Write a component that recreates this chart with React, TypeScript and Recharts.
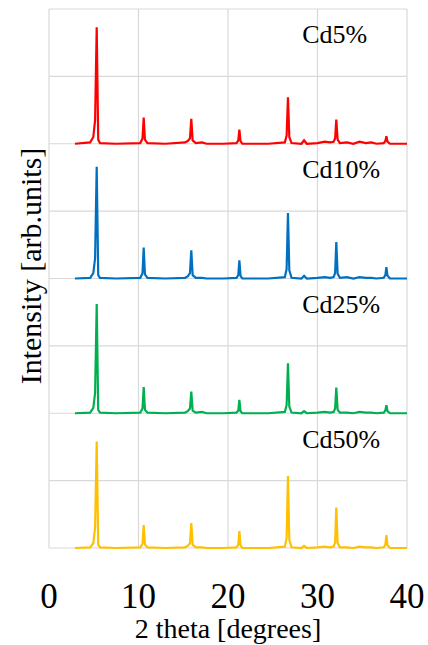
import { LineChart, Line, XAxis, YAxis, CartesianGrid, ReferenceDot } from "recharts";

// 2 theta positions (degrees), shared by every pattern
const twoTheta = [
  2.9, 4.6, 4.95, 5.15, 5.33, 5.5, 5.7, 7.5, 10.2, 10.45, 10.58, 10.72, 11.0, 13.0,
  15.2, 15.5, 15.75, 15.9, 16.05, 16.4, 17.1, 17.6, 19.5, 20.95, 21.15, 21.27, 21.4,
  21.6, 24.5, 26.35, 26.55, 26.7, 26.85, 27.1, 28.2, 28.5, 28.8, 30.0, 30.8, 31.4,
  31.8, 31.97, 32.1, 32.25, 32.5, 33.3, 34.0, 34.7, 35.4, 36.0, 36.6, 37.4, 37.58,
  37.7, 37.82, 38.1, 40.0,
];

// intensities above each pattern's own baseline
const cd5 = [
  0, 0.02, 0.1, 0.35, 1.73, 0.06, 0.01, 0, 0.01, 0.08, 0.39, 0.06, 0.01, 0,
  0.02, 0.04, 0.08, 0.37, 0.05, 0.01, 0.02, 0, 0, 0.01, 0.05, 0.21, 0.04,
  0, 0, 0.02, 0.12, 0.69, 0.1, 0.01, 0, 0.05, 0, 0.01, 0.03, 0.02,
  0.03, 0.08, 0.36, 0.06, 0.01, 0.02, 0, 0.03, 0.01, 0.02, 0, 0.01, 0.04,
  0.11, 0.03, 0, 0,
];
const cd10 = [
  0, 0.01, 0.08, 0.3, 1.66, 0.05, 0.01, 0, 0.01, 0.08, 0.46, 0.06, 0.01, 0,
  0.01, 0.03, 0.08, 0.42, 0.05, 0.01, 0.01, 0, 0, 0.01, 0.05, 0.27, 0.04,
  0, 0, 0.02, 0.14, 0.97, 0.12, 0.01, 0, 0.04, 0, 0.01, 0.02, 0.01,
  0.02, 0.08, 0.54, 0.07, 0.01, 0.02, 0, 0.02, 0.01, 0.01, 0, 0.01, 0.05,
  0.17, 0.04, 0, 0,
];
const cd25 = [
  0, 0.01, 0.08, 0.3, 1.62, 0.05, 0.01, 0, 0.01, 0.07, 0.39, 0.05, 0.01, 0,
  0.01, 0.03, 0.07, 0.32, 0.04, 0.01, 0.02, 0, 0, 0.01, 0.04, 0.2, 0.03,
  0, 0, 0.02, 0.12, 0.74, 0.1, 0.01, 0, 0.03, 0, 0.01, 0.02, 0.01,
  0.02, 0.07, 0.38, 0.05, 0.01, 0.01, 0, 0.02, 0.01, 0.01, 0, 0.01, 0.04,
  0.12, 0.03, 0, 0,
];
const cd50 = [
  0, 0.01, 0.07, 0.3, 1.58, 0.05, 0.01, 0, 0.01, 0.06, 0.34, 0.05, 0.01, 0,
  0.01, 0.03, 0.07, 0.37, 0.05, 0.01, 0.01, 0, 0, 0.01, 0.05, 0.25, 0.04,
  0, 0, 0.02, 0.15, 1.07, 0.12, 0.01, 0, 0.03, 0, 0.01, 0.02, 0.01,
  0.02, 0.08, 0.6, 0.07, 0.01, 0.01, 0, 0.02, 0.01, 0.01, 0, 0.01, 0.05,
  0.19, 0.04, 0, 0,
];

const seriesNames = ["Cd5%", "Cd10%", "Cd25%", "Cd50%"];
const xTicks = [0, 10, 20, 30, 40];
const yTicks = [0, 1, 2, 3, 4, 5, 6, 7, 8];

// vertical offsets used to stack the patterns
const offsets = [6, 4, 2, 0];
const colors = ["#ff0000", "#0070c0", "#00b050", "#ffc000"];

const table = twoTheta.map((x, i) => ({
  x,
  s0: cd5[i] + offsets[0],
  s1: cd10[i] + offsets[1],
  s2: cd25[i] + offsets[2],
  s3: cd50[i] + offsets[3],
}));

const serif = { fontFamily: "Liberation Serif, DejaVu Serif, serif" };

const XTick = (props: any) => (
  <text x={props.x} y={608} textAnchor="middle" fontSize={35} style={serif} fill="#000">
    {props.payload.value}
  </text>
);

const AxisTitles = () => (
  <g>
    <text x={228} y={638} textAnchor="middle" fontSize={28} style={serif} fill="#000">
      2 theta [degrees]
    </text>
    <text
      x={30}
      y={266}
      transform="rotate(-90 30 266)"
      textAnchor="middle"
      dominantBaseline="central"
      fontSize={30}
      style={serif}
      fill="#000"
    >
      Intensity [arb.units]
    </text>
  </g>
);

export default function App() {
  return (
    <div style={{ position: "absolute", left: 0, top: 0, width: 428, height: 645 }}>
      <LineChart
        width={428}
        height={645}
        data={table}
        margin={{ top: 9, right: 21, left: 0, bottom: 0 }}
      >
        <CartesianGrid stroke="#d9d9d9" strokeWidth={1.2} />
        <XAxis
          dataKey="x"
          type="number"
          domain={[0, 40]}
          ticks={xTicks}
          height={97}
          axisLine={false}
          tickLine={false}
          tick={<XTick />}
          label={{ content: () => <AxisTitles /> }}
        />
        <YAxis
          type="number"
          domain={[0, 8]}
          ticks={yTicks}
          width={49}
          axisLine={false}
          tickLine={false}
          tick={() => <g />}
        />
        {seriesNames.map((name, k) => (
          <Line
            key={name}
            dataKey={"s" + k}
            name={name}
            type="linear"
            stroke={colors[k]}
            strokeWidth={2.2}
            dot={false}
            isAnimationActive={false}
          />
        ))}
        {seriesNames.map((name, k) => (
          <ReferenceDot
            key={"lbl" + name}
            x={28.3}
            y={offsets[k] + 1.49}
            r={0}
            fill="none"
            stroke="none"
            label={(p: any) => (
              <text x={p.viewBox.x} y={p.viewBox.y} fontSize={26} style={serif} fill="#000">
                {name}
              </text>
            )}
          />
        ))}
      </LineChart>
    </div>
  );
}
